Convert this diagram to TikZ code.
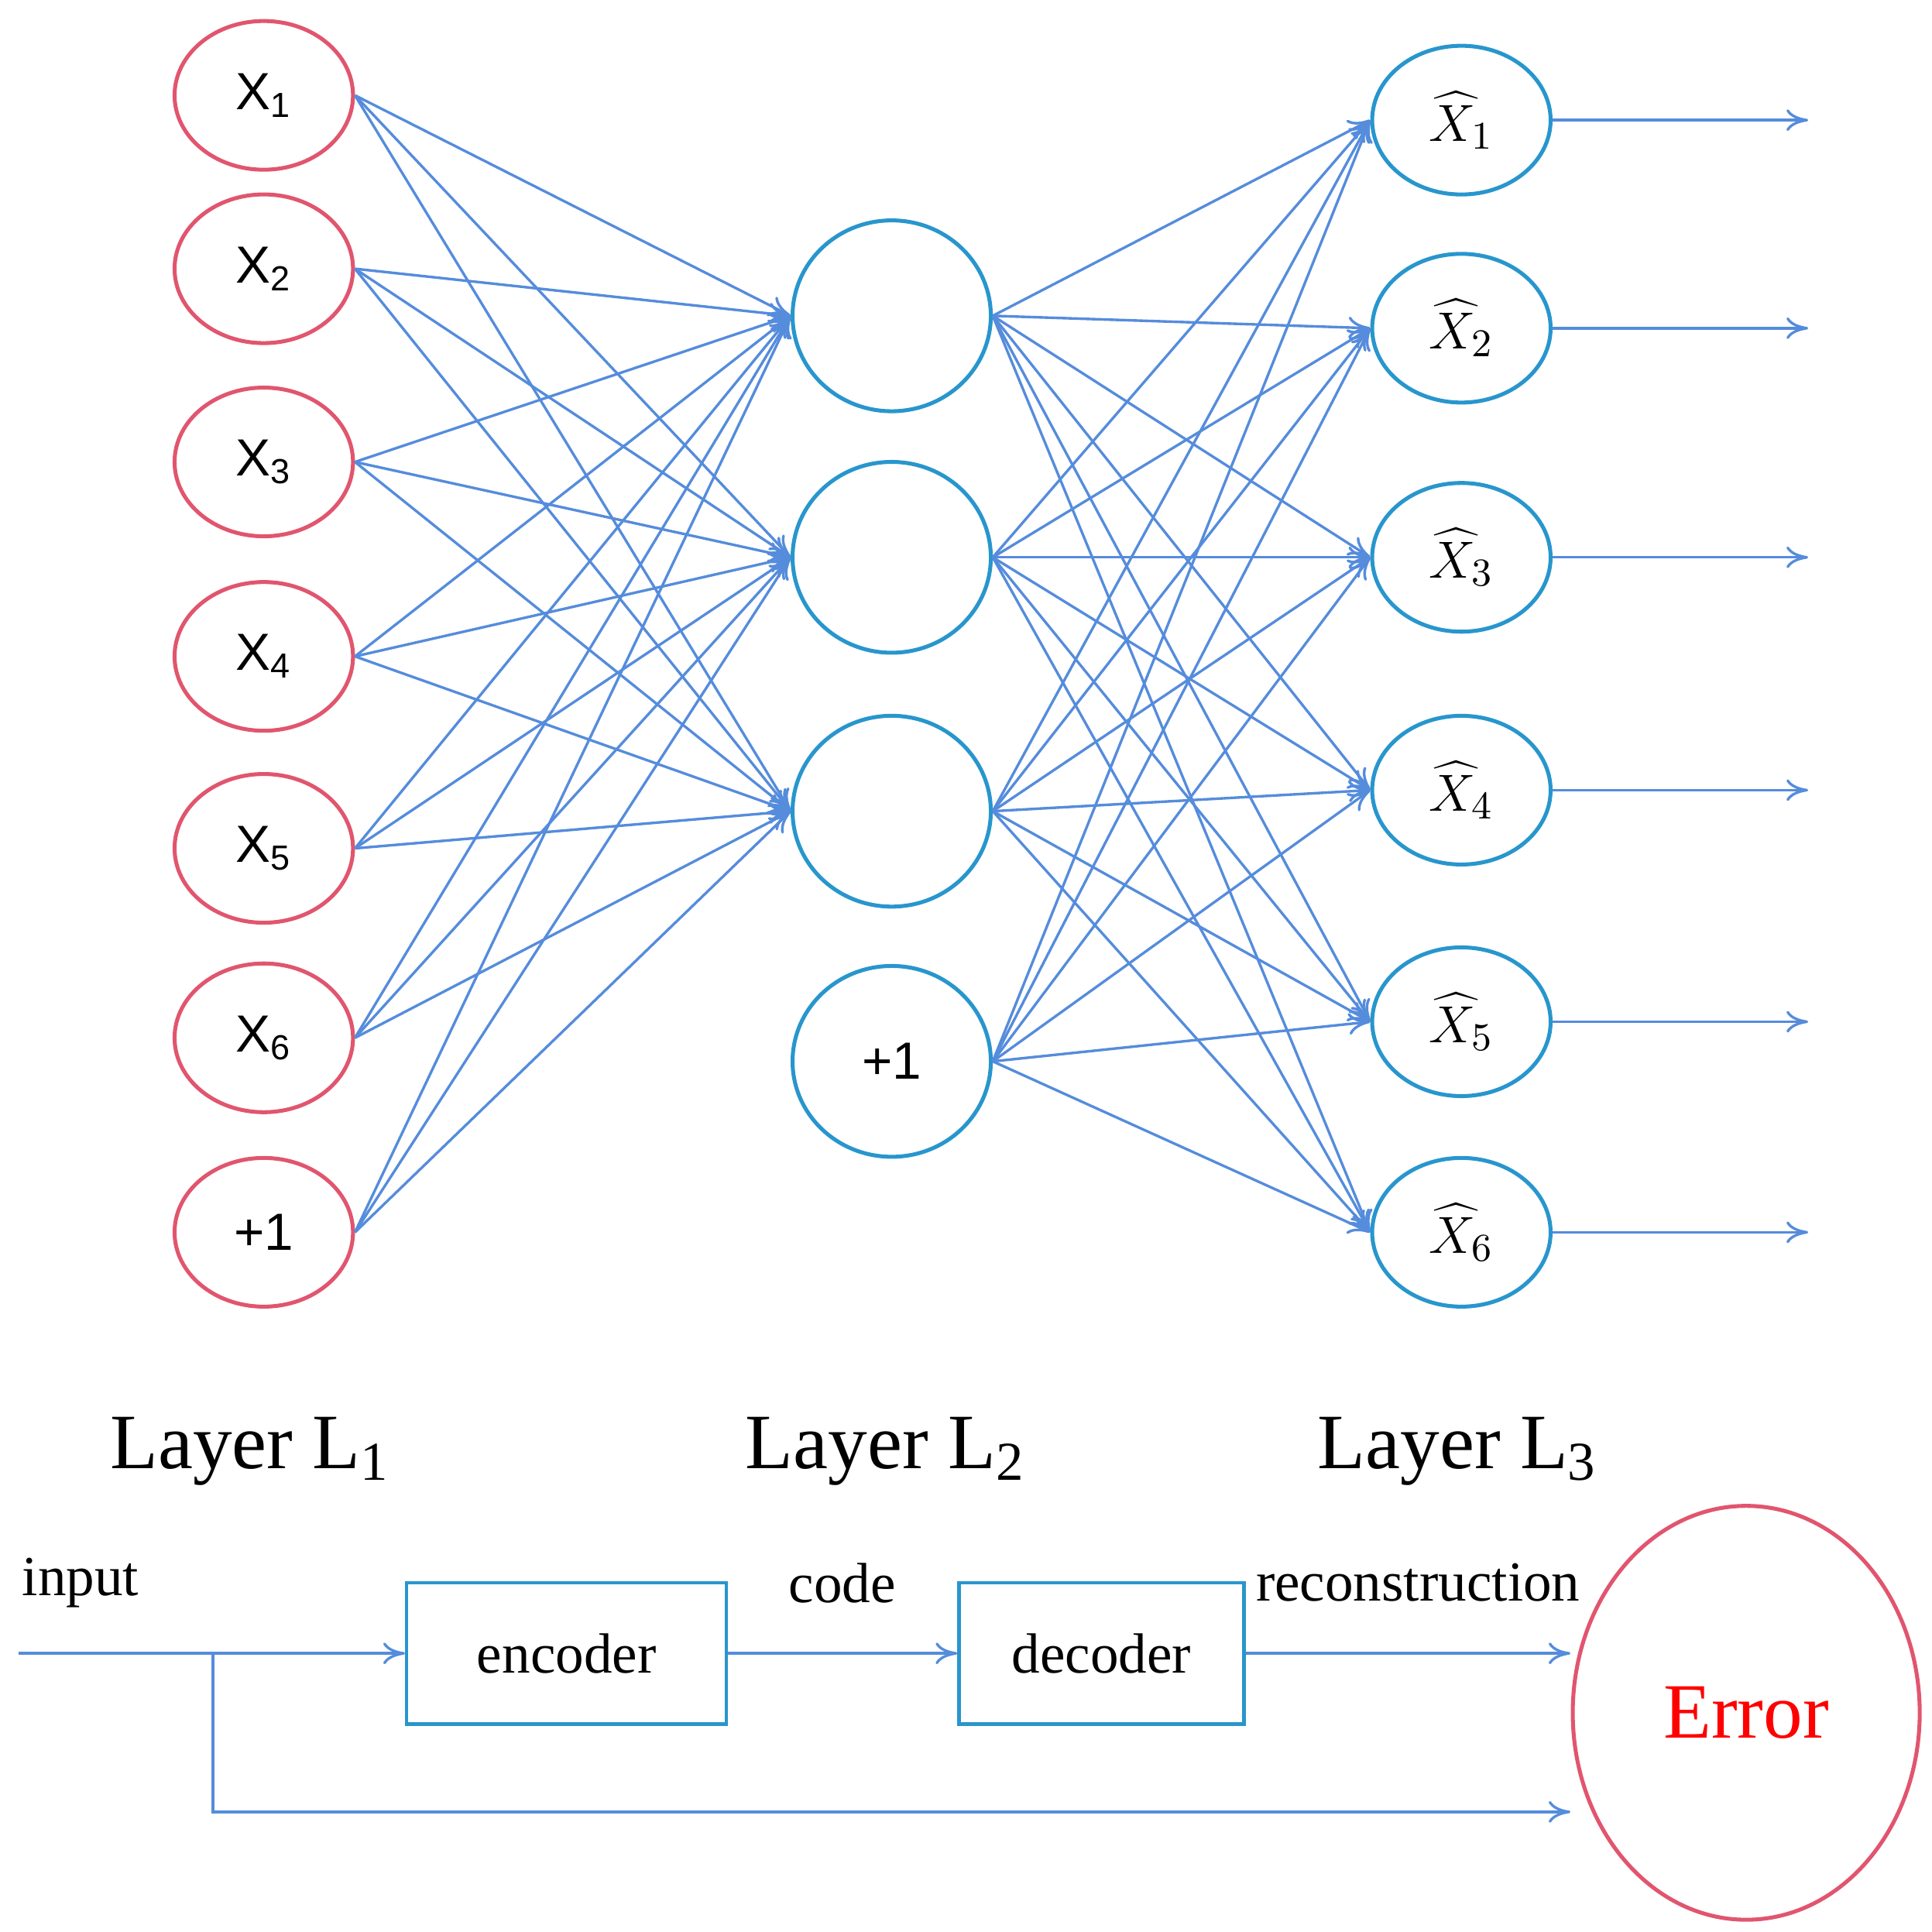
\documentclass[tikz,border=0pt]{standalone}
\usepackage{fontspec}
\setmainfont{Liberation Serif}
\newfontfamily\arial{Liberation Sans}
\usetikzlibrary{arrows.meta,shapes.geometric}
\definecolor{lb}{RGB}{85,140,220}
\definecolor{pk}{RGB}{225,85,110}
\definecolor{cy}{RGB}{40,150,205}
\begin{document}
\begin{tikzpicture}[x=0.01cm,y=-0.01cm,
 inn/.style={ellipse,draw=pk,line width=0.9pt,minimum width=1.44cm,minimum height=1.2cm,font=\arial\fontsize{12}{14}\selectfont},
 hid/.style={ellipse,draw=cy,line width=0.9pt,minimum width=1.6cm,minimum height=1.54cm,font=\arial\fontsize{12}{14}\selectfont},
 outn/.style={ellipse,draw=cy,line width=0.9pt,minimum width=1.44cm,minimum height=1.2cm,font=\fontsize{13}{15}\selectfont},
 con/.style={draw=lb,line width=0.6pt,-{To[length=5pt,width=5pt]}},
 box/.style={draw=cy,line width=0.8pt,minimum width=2.58cm,minimum height=1.14cm,font=\fontsize{13}{15}\selectfont},
 lay/.style={font=\fontsize{18}{20}\selectfont},
 lab/.style={font=\fontsize{13}{15}\selectfont}]
\useasboundingbox (0,0) rectangle (1560,1560);
\foreach \y/\t [count=\i] in {77/X\textsubscript{1},217/X\textsubscript{2},373/X\textsubscript{3},530/X\textsubscript{4},685/X\textsubscript{5},838/X\textsubscript{6},995/+1}
  \node[inn] (i\i) at (213,\y) {\t};
\foreach \y [count=\i] in {255,450,655}
  \node[hid] (h\i) at (720,\y) {};
\node[hid] (h4) at (720,857) {+1};
\foreach \y [count=\i] in {97,265,450,638,825,995}{
  \node[outn] (o\i) at (1180,\y) {$\widehat{X}_{\i}$};
  \coordinate (e\i) at (1460,\y);
  \draw[con] (o\i.east) -- (e\i);}
\foreach \a in {1,...,7} \foreach \b in {1,2,3} \draw[con] (i\a.east) -- (h\b.west);
\foreach \a in {1,...,4} \foreach \b in {1,...,6} \draw[con] (h\a.east) -- (o\b.west);
\node[lay] (l1) at (202,1172) {Layer L\textsubscript{1}};
\node[lay] (l2) at (715,1172) {Layer L\textsubscript{2}};
\node[lay] (l3) at (1177,1172) {Layer L\textsubscript{3}};
\node[lab] (tin) at (65,1278) {input};
\node[lab] (tco) at (680,1278) {code};
\node[lab] (tre) at (1145,1278) {reconstruction};
\node[box,anchor=west] (enc) at (327,1335) {encoder};
\node[box,anchor=west,minimum width=2.3cm] (dec) at (773,1335) {decoder};
\node[ellipse,draw=pk,line width=0.9pt,minimum width=2.8cm,minimum height=3.34cm,text=red,font=\fontsize{18}{20}\selectfont] (err) at (1410,1383) {Error};
\coordinate (s) at (15,1335);
\coordinate (sp) at (172,1335);
\coordinate (sd) at (172,1463);
\coordinate (r1) at (1268,1335);
\coordinate (r2) at (1268,1463);
\draw[con] (s) -- (enc.west);
\draw[con] (enc.east) -- (dec.west);
\draw[con] (dec.east) -- (r1);
\draw[con] (sp) -- (sd) -- (r2);
\end{tikzpicture}
\end{document}
